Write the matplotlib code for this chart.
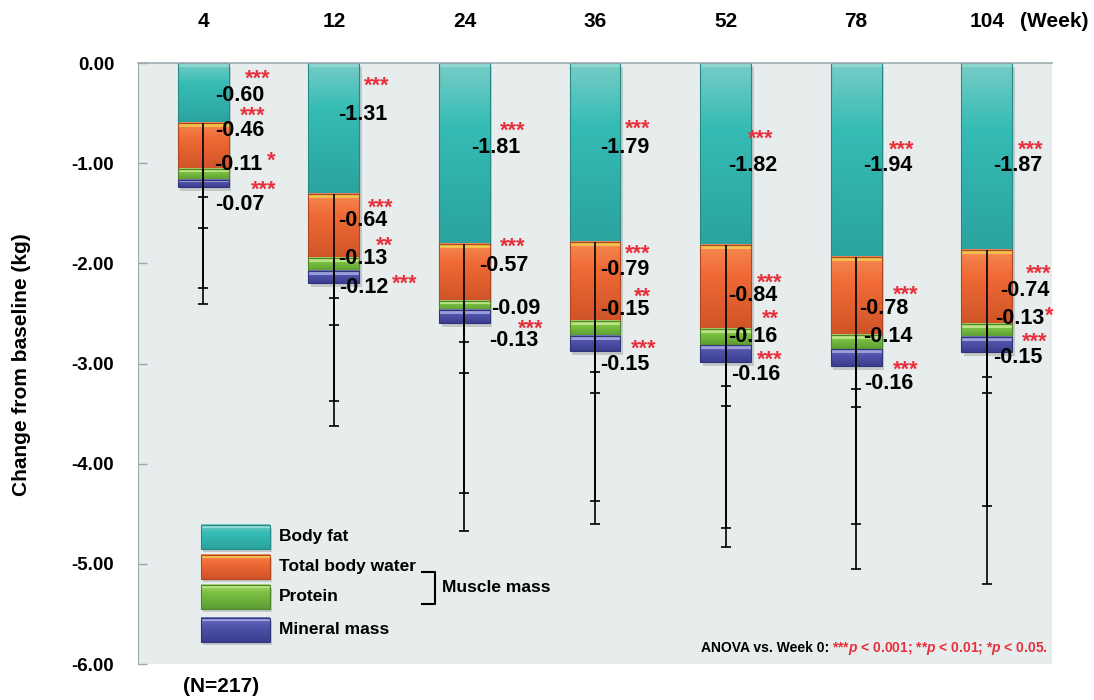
import numpy as np
import matplotlib
matplotlib.use("Agg")
import matplotlib.pyplot as plt
import matplotlib.colors as mcolors
from matplotlib.patches import Rectangle

plt.rcParams['font.family'] = ['Liberation Sans', 'DejaVu Sans']
plt.rcParams['font.weight'] = 'bold'
plt.rcParams['mathtext.fontset'] = 'custom'
plt.rcParams['mathtext.it'] = 'Liberation Sans:italic:bold'
plt.rcParams['mathtext.rm'] = 'Liberation Sans:bold'

# Dados
weeks = ['4', '12', '24', '36', '52', '78', '104']
componentes = ['Body fat', 'Total body water', 'Protein', 'Mineral mass']
body_fat = [-0.60, -1.31, -1.81, -1.79, -1.82, -1.94, -1.87]
body_water = [-0.46, -0.64, -0.57, -0.79, -0.84, -0.78, -0.74]
protein = [-0.11, -0.13, -0.09, -0.15, -0.16, -0.14, -0.13]
mineral = [-0.07, -0.12, -0.13, -0.15, -0.16, -0.16, -0.15]

# desvio padrao (so para baixo)
sd_fat = [1.81, 2.31, 2.86, 2.81, 3.01, 3.11, 3.33]
sd_water = [1.19, 1.42, 1.91, 1.79, 1.98, 1.88, 1.81]
sd_protein = [0.48, 0.54, 0.62, 0.56, 0.60, 0.57, 0.55]
sd_mineral = [0.10, 0.15, 0.19, 0.20, 0.24, 0.23, 0.24]

sig_fat = ['***'] * 7
sig_water = ['***'] * 7
sig_protein = ['*', '**', '', '**', '**', '', '*']
sig_mineral = ['***'] * 7

n_label = '(N=217)'

valores = [body_fat, body_water, protein, mineral]
sds = [sd_fat, sd_water, sd_protein, sd_mineral]
sigs = [sig_fat, sig_water, sig_protein, sig_mineral]

# cores: base, topo claro, fundo escuro, brilho
cores = [
    ('#35bcb5', '#78cdc6', '#2ba3a0', '#8fd8d0'),
    ('#f06a35', '#f58a52', '#cf5428', '#f4c24c'),
    ('#7cc142', '#a6d872', '#5c9c33', '#b8e283'),
    ('#5254ab', '#7576c4', '#3b3d8f', '#9c9cdc'),
]

# posicoes dos rotulos (dx em relacao a barra, y do centro do texto)
pos_num = [
    [(0.28, -0.30), (0.22, -0.49), (0.24, -0.82), (0.23, -0.82), (0.21, -1.00), (0.24, -1.00), (0.24, -1.00)],
    [(0.28, -0.65), (0.22, -1.55), (0.30, -2.00), (0.23, -2.04), (0.21, -2.30), (0.21, -2.43), (0.29, -2.25)],
    [(0.27, -0.99), (0.22, -1.93), (0.39, -2.43), (0.23, -2.44), (0.21, -2.71), (0.24, -2.71), (0.25, -2.53)],
    [(0.28, -1.39), (0.23, -2.22), (0.38, -2.75), (0.23, -2.99), (0.23, -3.09), (0.25, -3.18), (0.24, -2.92)],
]
pos_sig = [
    [(0.42, -0.12), (0.33, -0.19), (0.37, -0.64), (0.33, -0.62), (0.27, -0.72), (0.35, -0.83), (0.34, -0.83)],
    [(0.38, -0.49), (0.36, -1.41), (0.37, -1.80), (0.33, -1.87), (0.34, -2.16), (0.38, -2.28), (0.40, -2.07)],
    [(0.52, -0.94), (0.39, -1.79), None, (0.36, -2.30), (0.34, -2.52), None, (0.48, -2.49)],
    [(0.46, -1.23), (0.54, -2.17), (0.51, -2.62), (0.37, -2.81), (0.34, -2.92), (0.38, -3.02), (0.37, -2.74)],
]

largura = 0.39
fs = 15.5
px_por_un = 100.2


def barra(ax, xc, topo, fundo, w, cor, z=2):
    base, claro, escuro, brilho = [np.array(mcolors.to_rgb(c)) for c in cor]
    t = np.linspace(0, 1, 80)[:, None]
    grad = np.where(t < 0.35,
                    claro + (base - claro) * (t / 0.35),
                    base + (escuro - base) * ((t - 0.35) / 0.65))
    ax.imshow(grad[:, None, :], extent=(xc - w / 2, xc + w / 2, fundo, topo),
              aspect='auto', interpolation='bilinear', zorder=z, origin='upper')
    h = topo - fundo
    hb = min(0.035, 0.3 * h)
    ax.add_patch(Rectangle((xc - w / 2, topo - hb), w, hb, facecolor=brilho,
                           edgecolor='none', zorder=z + 0.1))
    ax.add_patch(Rectangle((xc - w / 2, fundo), w, h, facecolor='none',
                           edgecolor=escuro * 0.85, lw=0.8, zorder=z + 0.2))


fig = plt.figure(figsize=(10.94, 7.0), dpi=100)
ax = fig.add_axes([0.1261, 0.0514, 0.8355, 0.8586])
ax.set_facecolor('#e7ecec')

x = np.arange(len(weeks))
em = fs * 100 / 72 / px_por_un  # tamanho da fonte em unidades do eixo y

for i in range(len(weeks)):
    topo = 0.0
    total = sum(v[i] for v in valores)
    # sombra da pilha
    ax.add_patch(Rectangle((x[i] - largura / 2 + 0.02, total - 0.04), largura, -total,
                           facecolor='#7d8585', alpha=0.35, edgecolor='none', zorder=1))
    fundos = []
    for k in range(4):
        fundo = topo + valores[k][i]
        barra(ax, x[i], topo, fundo, largura, cores[k])
        fundos.append(fundo)
        topo = fundo
    # barras de erro
    for k in range(4):
        ax.vlines(x[i], fundos[k], fundos[k] - sds[k][i], color='black', lw=1.2, zorder=5)
        ax.plot(x[i], fundos[k] - sds[k][i], marker='_', ms=7, mew=1.2, color='black', zorder=5)
    # rotulos
    for k in range(4):
        dx, yc = pos_num[k][i]
        ax.text(x[i] + dx, yc - 0.358 * em, f'{valores[k][i]:.2f}', ha='center', va='baseline',
                fontsize=fs, color='black', zorder=6)
        if sigs[k][i] and pos_sig[k][i] is not None:
            dx, yc = pos_sig[k][i]
            ax.text(x[i] + dx, yc + 0.025 - 0.57 * em, sigs[k][i], ha='center', va='baseline',
                    fontsize=fs, color='#e8303c', zorder=6)

# semanas no topo
for i, w in enumerate(weeks):
    ax.text(x[i], 0.41, w, ha='center', va='center', fontsize=15, clip_on=False)
ax.text(6.52, 0.41, '(Week)', ha='center', va='center', fontsize=15, clip_on=False)
ax.text(0.14, -6.22, n_label, ha='center', va='center', fontsize=15, clip_on=False)

# legenda
leg_y = [(-4.61, -4.85), (-4.91, -5.15), (-5.21, -5.45), (-5.54, -5.78)]
leg_txt_y = [-4.73, -5.03, -5.33, -5.66]
for k in range(4):
    t0, b0 = leg_y[k]
    ax.add_patch(Rectangle((0.249 - 0.264 + 0.015, b0 - 0.03), 0.528, t0 - b0,
                           facecolor='#7d8585', alpha=0.35, edgecolor='none', zorder=1))
    barra(ax, 0.249, t0, b0, 0.528, cores[k])
    ax.text(0.58, leg_txt_y[k], componentes[k], ha='left', va='center', fontsize=12.5)
ax.plot([1.678, 1.778, 1.778, 1.678], [-5.08, -5.08, -5.40, -5.40], color='black', lw=1.5)
ax.text(1.831, -5.24, 'Muscle mass', ha='left', va='center', fontsize=12.5)

# eixos
ax.set_xlim(-0.5, 6.5)
ax.set_ylim(-6, 0)
ax.set_xticks([])
yt = np.arange(0, -6.01, -1)
ax.set_yticks(yt)
ax.set_yticklabels([f'{v:.2f}'.replace('-0.00', '0.00') for v in yt])
ax.tick_params(axis='y', direction='in', length=6.5, width=1, color='#9aa7ab',
               labelsize=13.5, pad=17)
for lado in ['right', 'bottom']:
    ax.spines[lado].set_visible(False)
ax.spines['top'].set_color('#a0acb0')
ax.spines['left'].set_color('#a0acb0')
ax.spines['top'].set_linewidth(1.2)

# nota de rodape (depois dos limites, para medir a posicao certa)
vermelho = ax.text(6.467, -5.88, r'***$p$ < 0.001; **$p$ < 0.01; *$p$ < 0.05.', ha='right',
                   va='baseline', fontsize=10, color='#e8303c')
fig.canvas.draw()
bb = vermelho.get_window_extent(fig.canvas.get_renderer())
x_esq = ax.transData.inverted().transform((bb.x0, bb.y0))[0]
ax.text(x_esq - 0.02, -5.88, 'ANOVA vs. Week 0:', ha='right', va='baseline', fontsize=10,
        color='black')

fig.text(22 / 1094, 1 - 365 / 700, 'Change from baseline (kg)', rotation=90,
         ha='center', va='center', fontsize=15)

fig.savefig('out.png', dpi=100)
